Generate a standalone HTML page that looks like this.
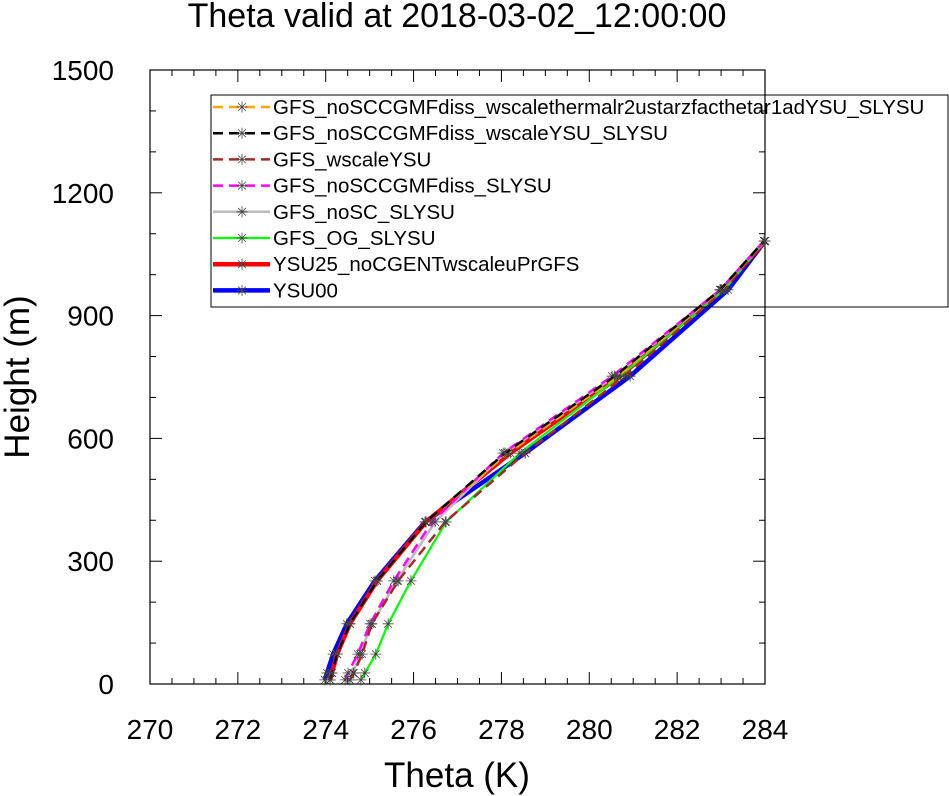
<!DOCTYPE html>
<html><head><meta charset="utf-8"><style>
body{margin:0;background:#fff;}
svg{display:block;font-family:"Liberation Sans",sans-serif;}
</style></head><body>
<svg id="chart" width="949" height="796" viewBox="0 0 949 796">
<text x="457" y="27" font-size="34" text-anchor="middle">Theta valid at 2018-03-02_12:00:00</text>
<text transform="translate(29,377) rotate(-90)" font-size="35" text-anchor="middle">Height (m)</text>
<text x="457" y="787" font-size="35" text-anchor="middle">Theta (K)</text>
<g id="axes"></g>
<g id="series"></g>
<g id="legend"></g>
</svg>
<script>
const heights=[10,27,73,147,252,396,564,752,963,1082];
const xTicks=[270,272,274,276,278,280,282,284];
const yTicks=[0,300,600,900,1200,1500];
const seriesNames=["GFS_noSCCGMFdiss_wscalethermalr2ustarzfacthetar1adYSU_SLYSU","GFS_noSCCGMFdiss_wscaleYSU_SLYSU","GFS_wscaleYSU","GFS_noSCCGMFdiss_SLYSU","GFS_noSC_SLYSU","GFS_OG_SLYSU","YSU25_noCGENTwscaleuPrGFS","YSU00"];
const thetaOrange=[274.10,274.14,274.26,274.55,275.17,276.28,278.15,280.65,283.00,283.99];
const thetaBlack=[274.10,274.14,274.26,274.55,275.17,276.28,278.08,280.58,282.98,283.98];
const thetaBrown=[274.55,274.64,274.83,275.05,275.65,276.72,278.54,280.81,283.07,284.0];
const thetaMagenta=[274.44,274.51,274.73,275.01,275.55,276.42,278.04,280.52,282.98,283.98];
const thetaGray=[274.55,274.62,274.78,275.05,275.62,276.49,278.08,280.58,282.98,283.98];
const thetaGreen=[274.80,274.89,275.14,275.42,275.94,276.74,278.42,280.70,283.07,284.0];
const thetaRed=[274.10,274.14,274.26,274.55,275.17,276.28,278.20,280.70,283.02,284.0];
const thetaBlue=[273.98,274.03,274.17,274.48,275.12,276.26,278.54,280.93,283.16,284.0];

const NS="http://www.w3.org/2000/svg";
const X0=150,X1=765,Y0=684,Y1=70;
const xs=v=>X0+(v-270)/14*(X1-X0);
const ys=v=>Y0-(v/1500)*(Y0-Y1);
function mk(t,a,p){const e=document.createElementNS(NS,t);for(const k in a)e.setAttribute(k,a[k]);p.appendChild(e);return e;}
const axes=document.getElementById('axes');
const frame=mk('rect',{x:X0,y:Y1,width:X1-X0,height:Y0-Y1,fill:'none',stroke:'#000','stroke-width':1.2},axes);


for(let v=270;v<=284.001;v+=0.5){const maj=Math.abs(v/2-Math.round(v/2))<1e-6;const L=maj?12:6;const x=xs(v);
 mk('line',{x1:x,x2:x,y1:Y0,y2:Y0-L,stroke:'#000'},axes);mk('line',{x1:x,x2:x,y1:Y1,y2:Y1+L,stroke:'#000'},axes);}
for(let v=0;v<=1500;v+=100){const maj=v%300===0;const L=maj?12:6;const y=ys(v);
 mk('line',{x1:X0,x2:X0+L,y1:y,y2:y,stroke:'#000'},axes);mk('line',{x1:X1,x2:X1-L,y1:y,y2:y,stroke:'#000'},axes);}
xTicks.forEach(v=>{const t=mk('text',{x:xs(v),y:739,'font-size':28,'text-anchor':'middle'},axes);t.textContent=v;
 
 });
yTicks.forEach(v=>{const t=mk('text',{x:114,y:ys(v)+10,'font-size':28,'text-anchor':'end'},axes);t.textContent=v;
 
 });
function star(g,x,y){const r=5.5;mk('path',{d:`M${x-r} ${y}H${x+r}M${x-r*.7} ${y-r*.7}L${x+r*.7} ${y+r*.7}M${x-r*.7} ${y+r*.7}L${x+r*.7} ${y-r*.7}M${x} ${y-r}V${y+r}`,stroke:'#444','stroke-width':0.8,fill:'none'},g);}
const styles=[
 {d:thetaOrange,c:'#ffa500',w:2.5,dash:'10,6'},
 {d:thetaBlack,c:'#000',w:2.5,dash:'10,6'},
 {d:thetaBrown,c:'#a52a2a',w:2.5,dash:'10,6'},
 {d:thetaMagenta,c:'#ff00ff',w:2.5,dash:'10,6'},
 {d:thetaGray,c:'#bbbbbb',w:2.5,dash:''},
 {d:thetaGreen,c:'#00ff00',w:2.2,dash:''},
 {d:thetaRed,c:'#ff0000',w:4.5,dash:''},
 {d:thetaBlue,c:'#0000ff',w:4.5,dash:''}];
const sg=document.getElementById('series');
const drawOrder=[7,6,5,4,3,2,0,1];
drawOrder.forEach(i=>{const s=styles[i];const g=mk('g',{},sg);
 
 
 const pts=s.d.map((v,j)=>xs(v).toFixed(1)+','+ys(heights[j]).toFixed(1)).join(' ');
 mk('polyline',{points:pts,fill:'none',stroke:s.c,'stroke-width':s.w,'stroke-dasharray':s.dash},g);
 s.d.forEach((v,j)=>star(g,xs(v),ys(heights[j])));});
const lg=document.getElementById('legend');
const box=mk('rect',{x:211,y:95,width:737,height:212,fill:'none',stroke:'#000','stroke-width':1},lg);


seriesNames.forEach((n,i)=>{const s=styles[i];const y=107+i*26.2;const g=mk('g',{},lg);
 
 
 mk('line',{x1:213,x2:270,y1:y,y2:y,stroke:s.c,'stroke-width':s.w,'stroke-dasharray':s.dash},g);
 star(g,242,y);
 const t=mk('text',{x:273,y:y+7,'font-size':20.5},g);t.textContent=n;});
</script>
</body></html>
